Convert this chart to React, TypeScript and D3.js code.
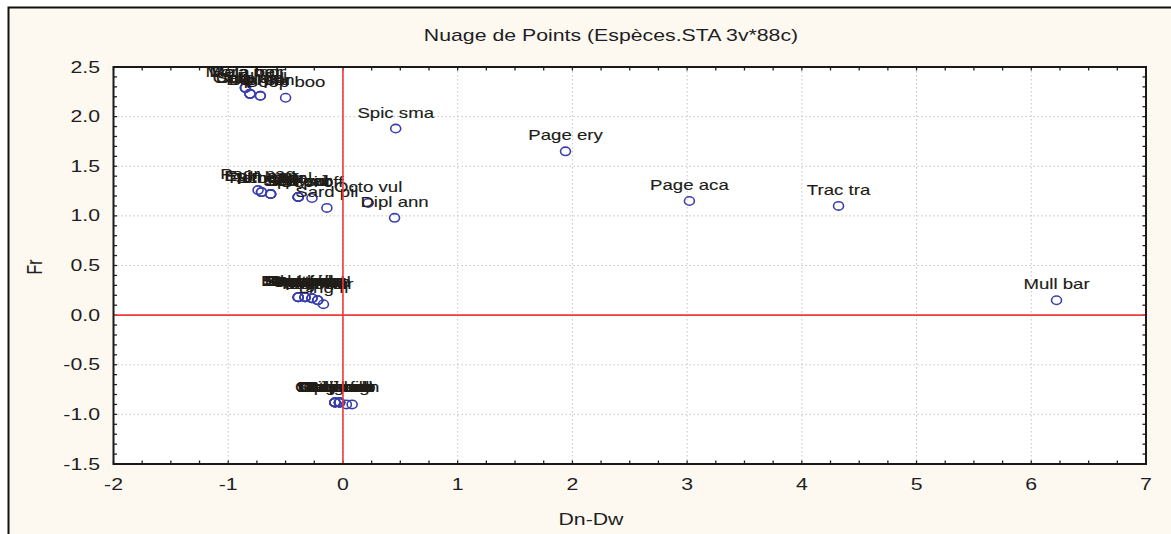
import React from "react";
import * as d3 from "d3";

// ---- data ----
const speciesNames: string[] = [
  // cluster near Fr 2.2
  "Mora mor", "Bela bel", "Mala bar", "Obla mel", "Sarp sal", "Ocul dip", "Dipl sar", "Dipl pun", "Boop boo",
  // isolated species
  "Spic sma", "Page ery", "Page aca", "Trac tra", "Mull bar",
  // cluster near Fr 1.2
  "Pagr pag", "Epin mar", "Epin aen", "Scor por", "Lith mor", "Pomat sal", "Serr scr", "Serr cab", "Dipl vul", "Sphy vir", "Sepi off", "Sard pil", "Octo vul", "Dipl ann",
  // cluster near Fr 0.15
  "Engr enc", "Sard aur", "Belo bel", "Alos fal", "Scom sco", "Scom jap", "Dent den", "Dent gib", "Trac med", "Sphy sph", "Auxi roc", "Mull sur", "Pagr aur", "Loli vul", "Ling fi",
  // cluster near Fr -0.9
  "Ophi bar", "Octo mac", "Gobi nig", "Gobi cob", "Uran sca", "Scia umb", "Raja cla", "Raja ast", "Cong con", "Torp mar", "Zeus fab", "Sole sol", "Merl mer", "Trig luce", "", "",
];
const dnDw: number[] = [
  -0.85, -0.85, -0.85, -0.81, -0.81, -0.81, -0.72, -0.72, -0.50,
  0.46, 1.94, 3.02, 4.32, 6.22,
  -0.74, -0.71, -0.71, -0.63, -0.63, -0.63, -0.39, -0.39, -0.39, -0.39, -0.27, -0.14, 0.22, 0.45,
  -0.39, -0.39, -0.39, -0.39, -0.33, -0.33, -0.33, -0.33, -0.27, -0.27, -0.27, -0.22, -0.22, -0.22, -0.17,
  -0.07, -0.07, -0.07, -0.07, -0.07, -0.07, -0.03, -0.03, -0.03, -0.03, -0.03, -0.03, -0.03, -0.03, 0.03, 0.08,
];
const fr: number[] = [
  2.29, 2.29, 2.29, 2.23, 2.23, 2.23, 2.21, 2.21, 2.19,
  1.88, 1.65, 1.15, 1.10, 0.15,
  1.26, 1.24, 1.24, 1.22, 1.22, 1.22, 1.19, 1.19, 1.19, 1.19, 1.18, 1.08, 1.13, 0.98,
  0.18, 0.18, 0.18, 0.18, 0.18, 0.18, 0.18, 0.18, 0.17, 0.17, 0.17, 0.15, 0.15, 0.15, 0.11,
  -0.88, -0.88, -0.88, -0.88, -0.88, -0.88, -0.88, -0.88, -0.88, -0.88, -0.88, -0.88, -0.88, -0.88, -0.90, -0.90,
];
const xTicks: number[] = [-2, -1, 0, 1, 2, 3, 4, 5, 6, 7];
const yTicks: number[] = [-1.5, -1.0, -0.5, 0.0, 0.5, 1.0, 1.5, 2.0, 2.5];
const titleText = "Nuage de Points (Espèces.STA 3v*88c)";
const xTitle = "Dn-Dw";
const yTitle = "Fr";

const W = 1171;
const H = 534;
const FONT = "'Liberation Sans', Arial, sans-serif";
const SX = 1.33;

const left = 113.5, right = 1146, top = 67, bottom = 464;

const hy = (s: string) => s.replace("\u2212", "-");

export default function App() {
  const x = d3.scaleLinear().domain([-2, 7]).range([left, right]);
  const y = d3.scaleLinear().domain([-1.5, 2.5]).range([bottom, top]);
  const xMinor = d3.range(-2, 7.001, 0.25);
  const yMinor = d3.range(-1.5, 2.501, 0.1);

  const T = (
    tx: number,
    ty: number,
    text: string,
    size: number,
    anchor: string,
    key: string,
    rotate = 0,
    fill = "#1e1e24",
    sw = 0
  ) => (
    <text
      key={key}
      transform={`translate(${tx},${ty}) scale(${SX},1)${rotate ? ` rotate(${rotate})` : ""}`}
      fontFamily={FONT}
      fontSize={size}
      textAnchor={anchor as any}
      dominantBaseline="central"
      fill={fill}
      stroke={sw ? fill : "none"}
      strokeWidth={sw}
    >
      {text}
    </text>
  );

  return (
    <svg
      width={W}
      height={H}
      style={{ position: "absolute", left: 0, top: 0, display: "block" }}
    >
      <rect x={0} y={0} width={W} height={H} fill="#ffffff" />
      <rect x={8.5} y={7.5} width={W + 20} height={H + 20} fill="#fdf9f0" stroke="#111" strokeWidth={2} />

      {T(611, 35, titleText, 16, "middle", "title")}

      <rect x={left} y={top} width={right - left} height={bottom - top} fill="#ffffff" />

      {/* grid */}
      {xTicks.slice(1, -1).map((t) => (
        <line key={"gx" + t} x1={x(t)} x2={x(t)} y1={top} y2={bottom} stroke="#c4c4c4" strokeWidth={1} strokeDasharray="1.5,2.5" />
      ))}
      {yTicks.slice(1, -1).map((t) => (
        <line key={"gy" + t} x1={left} x2={right} y1={y(t)} y2={y(t)} stroke="#c4c4c4" strokeWidth={1} strokeDasharray="1.5,2.5" />
      ))}

      {/* minor ticks */}
      {xMinor.map((t, i) => (
        <g key={"xm" + i}>
          <line x1={x(t)} x2={x(t)} y1={bottom} y2={bottom - 3.5} stroke="#222" strokeWidth={1.3} />
          <line x1={x(t)} x2={x(t)} y1={top} y2={top + 3.5} stroke="#222" strokeWidth={1.3} />
        </g>
      ))}
      {yMinor.map((t, i) => (
        <g key={"ym" + i}>
          <line x1={left} x2={left + 3.5} y1={y(t)} y2={y(t)} stroke="#222" strokeWidth={1.3} />
          <line x1={right} x2={right - 3.5} y1={y(t)} y2={y(t)} stroke="#222" strokeWidth={1.3} />
        </g>
      ))}

      {/* points */}
      {dnDw.map((v, i) => (
        <ellipse key={"p" + i} cx={x(v)} cy={y(fr[i])} rx={5} ry={4.2} fill="none" stroke="#3a3fae" strokeWidth={1.6} />
      ))}
      {/* labels */}
      {dnDw.map((v, i) =>
        speciesNames[i] ? T(x(v), y(fr[i]) - 16, speciesNames[i], 14, "middle", "l" + i, 0, "#201c18", 0.12) : null
      )}

      {/* reference lines */}
      <line x1={x(0)} x2={x(0)} y1={top} y2={bottom} stroke="#ee3b3b" strokeWidth={1.6} />
      <line x1={left} x2={right} y1={y(0)} y2={y(0)} stroke="#ee3b3b" strokeWidth={1.6} />

      <rect x={left} y={top} width={right - left} height={bottom - top} fill="none" stroke="#1a1a1a" strokeWidth={2} />

      {/* tick labels */}
      {xTicks.map((t) => T(x(t), 484, hy(d3.format("d")(t)), 16, "middle", "xt" + t))}
      {yTicks.map((t) => T(100, y(t), hy(d3.format(".1f")(t)), 16, "end", "yt" + t))}

      {T(591, 519, xTitle, 16, "middle", "xtitle")}
      {T(35, 267, yTitle, 16, "middle", "ytitle", -90)}
    </svg>
  );
}
